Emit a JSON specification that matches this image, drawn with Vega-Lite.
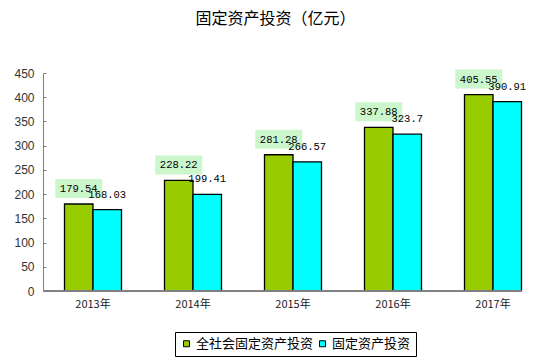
{
  "$schema": "https://vega.github.io/schema/vega-lite/v6.json",
  "width": 479,
  "height": 218,
  "autosize": {"type": "none"},
  "padding": {"left": 43, "top": 73, "right": 12, "bottom": 71},
  "background": "white",
  "title": {
    "text": "固定资产投资（亿元）",
    "font": "Noto Sans CJK SC",
    "fontSize": 16,
    "fontWeight": "normal",
    "color": "#000000",
    "anchor": "middle",
    "dx": -7,
    "offset": 40
  },
  "config": {
    "view": {"stroke": null},
    "axis": {"grid": false}
  },
  "data": {
    "values": [
      {"year": "2013年", "series": "全社会固定资产投资", "value": 179.54},
      {"year": "2013年", "series": "固定资产投资", "value": 168.03},
      {"year": "2014年", "series": "全社会固定资产投资", "value": 228.22},
      {"year": "2014年", "series": "固定资产投资", "value": 199.41},
      {"year": "2015年", "series": "全社会固定资产投资", "value": 281.28},
      {"year": "2015年", "series": "固定资产投资", "value": 266.57},
      {"year": "2016年", "series": "全社会固定资产投资", "value": 337.88},
      {"year": "2016年", "series": "固定资产投资", "value": 323.7},
      {"year": "2017年", "series": "全社会固定资产投资", "value": 405.55},
      {"year": "2017年", "series": "固定资产投资", "value": 390.91}
    ]
  },
  "encoding": {
    "x": {
      "field": "year",
      "type": "nominal",
      "sort": null,
      "scale": {"range": [0, 500], "paddingInner": 0.43, "paddingOuter": 0.215},
      "axis": {
        "title": null,
        "domain": false,
        "labelAngle": 0,
        "bandPosition": 0,
        "tickSize": -3,
        "tickColor": "#808080",
        "labelFont": "Noto Sans CJK SC",
        "labelFontSize": 11,
        "labelColor": "#222222",
        "labelPadding": 10,
        "labelBound": false,
        "labelFlush": false,
        "labelOverlap": false
      }
    },
    "xOffset": {
      "field": "series",
      "type": "nominal",
      "sort": ["全社会固定资产投资", "固定资产投资"],
      "scale": {"paddingInner": 0, "paddingOuter": 0}
    },
    "y": {
      "field": "value",
      "type": "quantitative",
      "scale": {"domain": [0, 450], "nice": false},
      "axis": {
        "title": null,
        "values": [0, 50, 100, 150, 200, 250, 300, 350, 400, 450],
        "domainColor": "#808080",
        "tickColor": "#808080",
        "tickSize": -3,
        "labelFont": "Liberation Sans",
        "labelFontSize": 12,
        "labelColor": "#333333",
        "labelPadding": 12
      }
    }
  },
  "layer": [
    {
      "mark": {"type": "bar", "stroke": "#000000", "strokeWidth": 1.3},
      "encoding": {
        "color": {
          "field": "series",
          "type": "nominal",
          "sort": ["全社会固定资产投资", "固定资产投资"],
          "scale": {"domain": ["全社会固定资产投资", "固定资产投资"], "range": ["#99CC00", "#00FFFF"]},
          "legend": {
            "title": null,
            "orient": "none",
            "direction": "horizontal",
            "legendX": 132,
            "legendY": 259,
            "padding": 5,
            "strokeColor": "#000000",
            "fillColor": "#ffffff",
            "symbolType": "square",
            "symbolSize": 36,
            "symbolStrokeColor": "#000000",
            "symbolStrokeWidth": 1,
            "labelFont": "Noto Sans CJK SC",
            "labelFontSize": 13,
            "labelColor": "#000000",
            "labelOffset": 3,
            "columnPadding": 2,
            "labelLimit": 300
          }
        }
      }
    },
    {
      "transform": [{"filter": "datum.series === '全社会固定资产投资'"}],
      "mark": {
        "type": "point",
        "shape": "M-1,-0.404H1V0.404H-1Z",
        "size": 2209,
        "filled": true,
        "opacity": 1,
        "color": "#ccf7cc",
        "strokeWidth": 0,
        "yOffset": -15.5,
        "xOffset": -1
      }
    },
    {
      "mark": {
        "type": "text",
        "font": "Liberation Mono",
        "fontSize": 10.5,
        "color": "#000000",
        "baseline": "middle",
        "align": "center",
        "yOffset": -15
      },
      "encoding": {"text": {"field": "value", "type": "quantitative"}}
    },
    {
      "mark": {"type": "rule", "color": "#808080", "strokeWidth": 1},
      "encoding": {"y": {"datum": 0}, "x": null, "xOffset": null}
    }
  ]
}
